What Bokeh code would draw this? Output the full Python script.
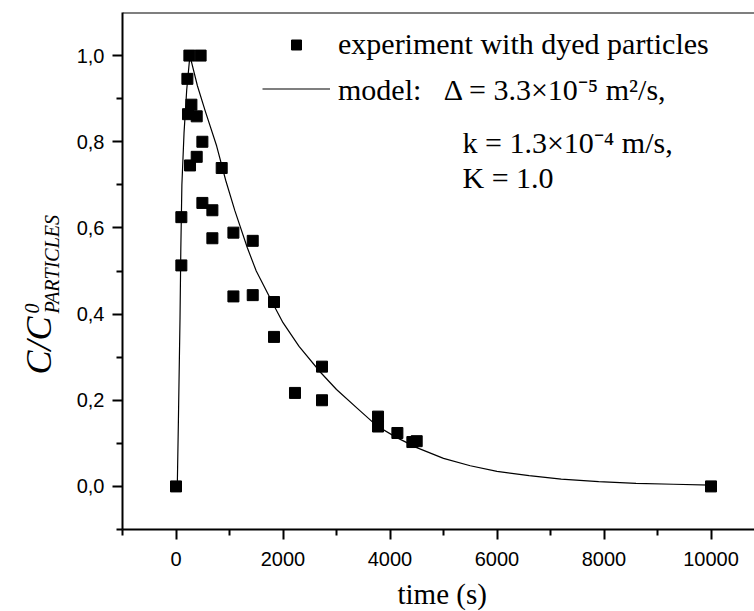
import math
from bokeh.plotting import figure
from bokeh.layouts import row
from bokeh.models import (Range1d, FixedTicker, CustomJSTickFormatter, Span, Label,
                          Legend, LegendItem, Title)
from bokeh.embed import file_html
from bokeh.resources import INLINE

# ---- data ----
exp_time = [0, 100, 100, 213, 224, 250, 262, 288, 387, 387, 460, 493, 493, 680, 680,
            854, 1073, 1073, 1434, 1434, 1832, 1832, 2224, 2729, 2729, 3776, 3776,
            4138, 4418, 4499, 10000]
exp_conc = [0.0, 0.625, 0.513, 0.946, 0.864, 1.0, 0.745, 0.886, 0.859, 0.765, 1.0, 0.80,
            0.658, 0.641, 0.576, 0.739, 0.589, 0.441, 0.570, 0.444, 0.428, 0.347, 0.217,
            0.278, 0.200, 0.162, 0.139, 0.124, 0.103, 0.105, 0.0]

model_time = [0, 15, 26, 45, 75, 90, 110, 150, 200, 260, 400, 550, 760, 930, 1100, 1330,
              1500, 1830, 2000, 2300, 2700, 3000, 3400, 3760, 4100, 4500, 5000, 5500,
              6000, 6600, 7200, 7900, 8600, 9300, 10000]
model_conc = [0.0, 0.0, 0.014, 0.153, 0.39, 0.55, 0.70, 0.82, 0.92, 1.0, 0.93, 0.87, 0.79,
              0.71, 0.64, 0.555, 0.50, 0.42, 0.38, 0.325, 0.265, 0.225, 0.18, 0.14, 0.115,
              0.09, 0.065, 0.048, 0.035, 0.025, 0.017, 0.011, 0.007, 0.005, 0.003]

x_major = [0, 2000, 4000, 6000, 8000, 10000]
x_minor = [-1000, 1000, 3000, 5000, 7000, 9000]
y_major = [0.0, 0.2, 0.4, 0.6, 0.8, 1.0]
y_minor = [-0.1, 0.1, 0.3, 0.5, 0.7, 0.9]

legend_exp = "experiment with dyed particles"
legend_model = "model:\u00a0\u00a0\u00a0\u0394 = 3.3\u00d710\u207b\u2075 m\u00b2/s,"
legend_k = "k = 1.3\u00d710\u207b\u2074 m/s,"
legend_K = "K = 1.0"
x_title = "time (s)"
y_title_main = "C/C"
y_title_sup = "0"
y_title_sub = "PARTICLES"

SERIF = "Liberation Serif"
SANS = "Liberation Sans"
LW = 62    # width of the strip holding the vertical title
H = 611

# ---- strip with the rotated y-axis title ----
ylab = figure(width=LW, height=H, output_backend="svg", toolbar_location=None,
              x_axis_type=None, y_axis_type=None, min_border=0,
              x_range=Range1d(0, 1), y_range=Range1d(0, 1))
ylab.outline_line_color = None
ylab.grid.visible = False
ang = math.pi / 2
ylab.add_layout(Label(x=38, y=155, x_units="screen", y_units="screen", text=y_title_main,
                      angle=ang, text_font=SERIF, text_font_style="italic",
                      text_font_size="36px", text_color="black",
                      text_baseline="alphabetic", text_align="left"))
ylab.add_layout(Label(x=31, y=216, x_units="screen", y_units="screen", text=y_title_sup,
                      angle=ang, text_font=SERIF, text_font_style="italic",
                      text_font_size="20px", text_color="black",
                      text_baseline="alphabetic", text_align="left"))
ylab.add_layout(Label(x=51, y=216, x_units="screen", y_units="screen", text=y_title_sub,
                      angle=ang, text_font=SERIF, text_font_style="italic",
                      text_font_size="20px", text_color="black",
                      text_baseline="alphabetic", text_align="left"))

# ---- main plot ----
p = figure(width=754 - LW, height=H, output_backend="svg", toolbar_location=None,
           x_range=Range1d(-1000, 10813), y_range=Range1d(-0.1, 1.1),
           min_border_left=122 - LW, min_border_right=0, min_border_top=12,
           min_border_bottom=H - 529)
p.outline_line_color = None
p.grid.visible = False
p.background_fill_color = "white"
p.border_fill_color = "white"

for ax in (p.xaxis[0], p.yaxis[0]):
    ax.axis_line_width = 2
    ax.axis_line_color = "black"
    ax.major_tick_line_width = 2
    ax.minor_tick_line_width = 2
    ax.major_tick_line_color = "black"
    ax.minor_tick_line_color = "black"
    ax.major_tick_out = 10
    ax.major_tick_in = 0
    ax.minor_tick_out = 6
    ax.minor_tick_in = 0
    ax.major_label_text_font = SANS
    ax.major_label_text_font_size = "20px"
    ax.major_label_text_color = "black"
    ax.major_label_standoff = 8
p.xaxis.major_label_standoff = 12

p.xaxis.ticker = FixedTicker(ticks=x_major, minor_ticks=x_minor)
p.yaxis.ticker = FixedTicker(ticks=y_major, minor_ticks=y_minor)
p.xaxis.formatter = CustomJSTickFormatter(code="return tick.toFixed(0);")
p.yaxis.formatter = CustomJSTickFormatter(code="return tick.toFixed(1).replace('.', ',');")

# small spacer panel, then the x-axis title, below the axis
p.add_layout(Title(text=" ", text_font_size="1px", standoff=4), "below")
p.add_layout(Title(text=x_title, align="left", offset=275, text_font=SERIF,
                   text_font_size="29px", text_font_style="normal",
                   text_color="black", standoff=0), "below")

# top frame line
p.add_layout(Span(location=1.1, dimension="width", line_color="black", line_width=2))

ln = p.line(model_time, model_conc, line_color="black", line_width=1.2)
sc = p.scatter(exp_time, exp_conc, marker="square", size=11, color="black")

legend = Legend(items=[LegendItem(label=legend_exp, renderers=[sc]),
                       LegendItem(label=legend_model, renderers=[ln])],
                location=(140, 419), glyph_width=68, glyph_height=25, label_height=44,
                label_standoff=8, spacing=0, padding=0, margin=0,
                border_line_color=None, background_fill_alpha=0,
                label_text_font=SERIF, label_text_font_size="30px",
                label_text_color="black")
p.add_layout(legend)

for txt, yy in ((legend_k, 387), (legend_K, 352)):
    p.add_layout(Label(x=340, y=yy, x_units="screen", y_units="screen", text=txt,
                       text_font=SERIF, text_font_size="30px", text_color="black",
                       text_baseline="alphabetic", text_align="left"))

layout = row(ylab, p)
open("out.html", "w").write(file_html(layout, INLINE))
